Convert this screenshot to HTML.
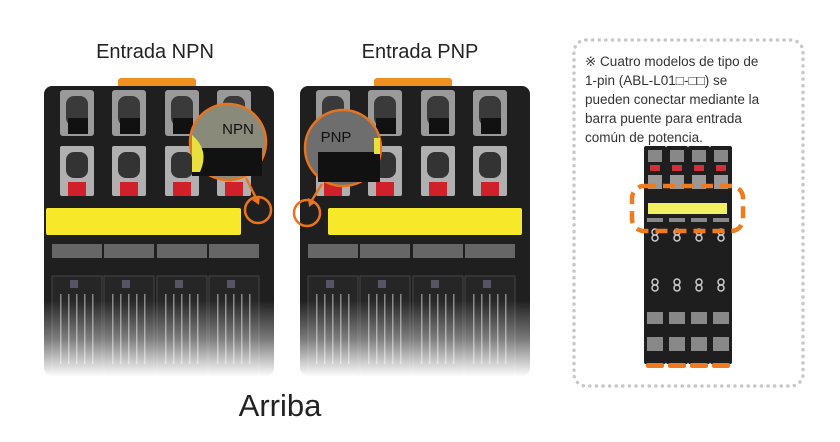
<!DOCTYPE html><html><head><style>
body{margin:0;background:#fff;width:840px;height:437px;overflow:hidden;font-family:"Liberation Sans",sans-serif}
</style></head><body>
<svg width="840" height="437" viewBox="0 0 840 437" xmlns="http://www.w3.org/2000/svg">
<defs>
<linearGradient id="fade" x1="0" y1="0" x2="0" y2="1">
<stop offset="0" stop-color="#fff" stop-opacity="0"/><stop offset="0.5" stop-color="#fff" stop-opacity="0.4"/><stop offset="1" stop-color="#fff" stop-opacity="1"/></linearGradient>
<g id="mod">
<rect x="74" y="-8" width="78" height="14" rx="3" fill="#f0901e"/>
<rect x="0" y="0" width="230" height="290" rx="8" fill="#1f1f1f"/>
<g id="col">
<rect x="16" y="4" width="34" height="46" rx="3" fill="#9a9a9a"/>
<rect x="22" y="10" width="22" height="30" rx="8" fill="#3a3a3a"/>
<rect x="24" y="32" width="20" height="16" fill="#111"/>
<rect x="16" y="60" width="34" height="50" rx="2" fill="#b0b0b0"/>
<rect x="22" y="66" width="22" height="26" rx="8" fill="#333"/>
<rect x="24" y="96" width="18" height="14" fill="#d0202a"/>
<rect x="8" y="158" width="50" height="14" fill="#666"/>
<rect x="8" y="190" width="50" height="100" fill="#262626" stroke="#444"/>
<rect x="26" y="194" width="8" height="8" fill="#556"/>
<g fill="#888"><rect x="16" y="208" width="1.5" height="70"/><rect x="24" y="208" width="1.5" height="70"/><rect x="32" y="208" width="1.5" height="70"/><rect x="40" y="208" width="1.5" height="70"/><rect x="48" y="208" width="1.5" height="70"/></g>
</g>
<use href="#col" x="52"/><use href="#col" x="105"/><use href="#col" x="157"/>
</g>
</defs>
<text x="155" y="58" font-size="20" text-anchor="middle" fill="#222">Entrada NPN</text>
<text x="420" y="58" font-size="20" text-anchor="middle" fill="#222">Entrada PNP</text>
<use href="#mod" x="44" y="86"/>
<use href="#mod" x="300" y="86"/>
<rect x="328" y="208" width="194" height="27" rx="2" fill="#f7e92a"/>
<rect x="46" y="208" width="195" height="27" rx="2" fill="#f7e92a"/>
<rect x="296" y="300" width="240" height="77" fill="url(#fade)"/>
<rect x="40" y="300" width="240" height="77" fill="url(#fade)"/>
<circle cx="228" cy="142" r="38" fill="#8a8a7a" stroke="#e8741c" stroke-width="2.5"/>
<rect x="192" y="148" width="70" height="28" fill="#111"/>
<path d="M192 135 Q210 150 200 172 L192 172Z" fill="#e8e040"/>
<text x="238" y="134" font-size="15" text-anchor="middle" fill="#111">NPN</text>
<line x1="246" y1="178" x2="256" y2="198" stroke="#e8741c" stroke-width="2.5"/>
<polygon points="252,200 260,196 259,205" fill="#e8741c"/>
<circle cx="258" cy="210" r="13" fill="none" stroke="#e8741c" stroke-width="2.5"/>
<circle cx="343" cy="148" r="38" fill="#6e6e6e" stroke="#e8741c" stroke-width="2.5"/>
<rect x="318" y="152" width="62" height="30" fill="#111"/>
<rect x="374" y="138" width="6" height="16" fill="#e8e040"/>
<text x="336" y="142" font-size="15" text-anchor="middle" fill="#111">PNP</text>
<line x1="322" y1="184" x2="312" y2="200" stroke="#e8741c" stroke-width="2.5"/>
<polygon points="308,198 316,202 309,207" fill="#e8741c"/>
<circle cx="307" cy="213" r="13" fill="none" stroke="#e8741c" stroke-width="2.5"/>
<text x="280" y="416" font-size="31" text-anchor="middle" fill="#222">Arriba</text>
<rect x="574" y="40" width="229" height="346" rx="12" fill="none" stroke="#c8c8c8" stroke-width="3.5" stroke-dasharray="0.1 6.5" stroke-linecap="round"/>
<g font-size="13.5" fill="#333">
<text x="585" y="66">※ Cuatro modelos de tipo de</text>
<text x="585" y="85">1-pin (ABL-L01□-□□) se</text>
<text x="585" y="104">pueden conectar mediante la</text>
<text x="585" y="123">barra puente para entrada</text>
<text x="585" y="142">común de potencia.</text>
</g>
<g id="thin">
<rect x="644" y="146" width="22" height="218" rx="2" fill="#1e1e1e"/>
<rect x="648" y="150" width="14" height="12" fill="#888"/>
<rect x="650" y="165" width="10" height="6" fill="#d0303a"/>
<rect x="648" y="175" width="14" height="14" fill="#999"/>
<rect x="647" y="218" width="16" height="4" fill="#888"/>
<circle cx="655" cy="232" r="3" fill="none" stroke="#ccc" stroke-width="1.5"/>
<circle cx="655" cy="238" r="3" fill="none" stroke="#ccc" stroke-width="1.5"/>
<circle cx="655" cy="282" r="3" fill="none" stroke="#ccc" stroke-width="1.5"/>
<circle cx="655" cy="288" r="3" fill="none" stroke="#ccc" stroke-width="1.5"/>
<rect x="647" y="312" width="16" height="12" fill="#888"/>
<rect x="647" y="337" width="16" height="14" fill="#888"/>
<rect x="646" y="363" width="18" height="5" rx="2" fill="#f07a20"/>
</g>
<use href="#thin" x="22"/><use href="#thin" x="44"/><use href="#thin" x="66"/>
<rect x="648" y="203" width="79" height="11" fill="#f2f060"/>
<rect x="632" y="186" width="111" height="45" rx="12" fill="none" stroke="#f07a1e" stroke-width="4.5" stroke-dasharray="12 7"/>
</svg>
</body></html>
